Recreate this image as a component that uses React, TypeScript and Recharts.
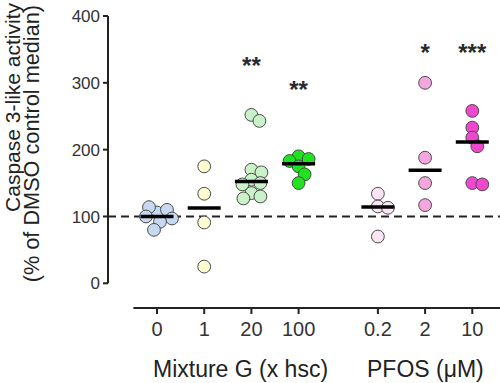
import { ScatterChart, Scatter, XAxis, YAxis, ReferenceLine } from "recharts";

// dose labels on the x axis (Mixture G x hsc, then PFOS uM)
const doseLabels = ["0", "1", "20", "100", "0.2", "2", "10"];

// caspase 3-like activity, % of DMSO control median
const dmso = [106, 110, 114, 100, 97, 92, 80];
const mixG1 = [175, 134, 91, 25];
const mixG20 = [252, 243, 170, 166, 155, 150, 148, 135, 130, 127];
const mixG100 = [190, 186, 183, 175, 163, 150];
const pfos02 = [134, 115, 113, 70];
const pfos2 = [300, 188, 150, 117];
const pfos10 = [258, 233, 218, 205, 150, 148];
const significance = ["", "", "**", "**", "", "*", "***"];

const yTicks = [0, 100, 200, 300, 400];

const groups = [dmso, mixG1, mixG20, mixG100, pfos02, pfos2, pfos10];
const fills = ["#c6d9f1", "#fdfbd0", "#caf2c8", "#1fe31f", "#fce4f4", "#f6a6de", "#ef48cf"];

const FONT = '"Liberation Sans", Arial, sans-serif';
const W = 500;
const H = 383;
const PLOT_LEFT = 108;
const PLOT_TOP = 16;
const PLOT_BOTTOM = 308;
const PX_PER_X = 47.2;
const PX_PER_Y = (283.3 - PLOT_TOP) / 400;
const GAP = 0.68; // extra space between the two compound blocks
const R = 6.4;

const xMin = -(157 - PLOT_LEFT) / PX_PER_X;
const xMax = (W - 157) / PX_PER_X;
const yMin = -(PLOT_BOTTOM - 283.3) / PX_PER_Y;

const positions = groups.map((_, i) => i + (i >= 4 ? GAP : 0));
const starLevels = [0, 0, 331, 295, 0, 350, 350];

// simple beeswarm so overlapping dots are pushed sideways
function swarm(values: number[], center: number) {
  const placed: { dx: number; y: number }[] = [];
  return values.map((v) => {
    let dx = 0;
    for (let k = 0; k < 40; k++) {
      const cand = k === 0 ? 0 : (k % 2 ? 1 : -1) * Math.ceil(k / 2);
      const ok = placed.every(
        (p) => Math.hypot(p.dx - cand, (p.y - v) * PX_PER_Y) >= 9.6
      );
      if (ok) {
        dx = cand;
        break;
      }
    }
    placed.push({ dx, y: v });
    return { x: center + dx / PX_PER_X, y: v };
  });
}

function median(values: number[]) {
  const s = [...values].sort((a, b) => a - b);
  const m = Math.floor(s.length / 2);
  return s.length % 2 ? s[m] : (s[m - 1] + s[m]) / 2;
}

const medianData = groups.map((g, i) => ({ x: positions[i], y: median(g) }));
const starData = significance
  .map((s, i) => ({ x: positions[i], y: starLevels[i], label: s }))
  .filter((d) => d.label);

export default function App() {
  return (
    <div style={{ position: "absolute", left: 0, top: 0, width: W, height: H, background: "#fff" }}>
      <ScatterChart
        width={W}
        height={H}
        margin={{ top: PLOT_TOP, right: 0, bottom: 0, left: 0 }}
      >
        <XAxis
          dataKey="x"
          type="number"
          domain={[xMin, xMax]}
          allowDataOverflow
          ticks={positions}
          tickFormatter={(v: number) => doseLabels[positions.indexOf(v)] ?? ""}
          axisLine={false}
          tickLine={{ stroke: "#222", strokeWidth: 2 }}
          tickSize={6}
          tickMargin={8}
          height={H - PLOT_BOTTOM}
          interval={0}
          tick={{ fill: "#333", fontSize: 20, fontFamily: FONT }}
        />
        <YAxis
          dataKey="y"
          type="number"
          domain={[yMin, 400]}
          allowDataOverflow
          ticks={yTicks}
          axisLine={false}
          tickLine={{ stroke: "#222", strokeWidth: 2 }}
          tickSize={5}
          tickMargin={3}
          width={PLOT_LEFT}
          interval={0}
          tick={{ fill: "#333", fontSize: 17, fontFamily: FONT }}
        />
        <ReferenceLine
          segment={[{ x: xMin, y: 0 }, { x: xMin, y: 400 }]}
          stroke="#222"
          strokeWidth={2}
          ifOverflow="visible"
        />
        <ReferenceLine
          segment={[{ x: -0.5, y: yMin }, { x: xMax, y: yMin }]}
          stroke="#222"
          strokeWidth={2}
          ifOverflow="visible"
        />
        <ReferenceLine
          y={100}
          stroke="#222"
          strokeWidth={2}
          strokeDasharray="8 5"
          ifOverflow="visible"
        />
        {groups.map((g, i) => (
          <Scatter
            key={i}
            data={swarm(g, positions[i])}
            isAnimationActive={false}
            shape={(p: any) => (
              <circle cx={p.cx} cy={p.cy} r={R} fill={fills[i]} stroke="#4a4a4a" strokeWidth={1} />
            )}
          />
        ))}
        <Scatter
          data={medianData}
          isAnimationActive={false}
          shape={(p: any) => (
            <line x1={p.cx - 16.5} x2={p.cx + 16.5} y1={p.cy} y2={p.cy} stroke="#000" strokeWidth={3.5} />
          )}
        />
        <Scatter
          data={starData}
          isAnimationActive={false}
          shape={(p: any) => (
            <text
              x={p.cx}
              y={p.cy + 12}
              textAnchor="middle"
              fontSize={24}
              fontWeight="bold"
              fontFamily={FONT}
              fill="#2a2a2a"
            >
              {p.payload.label}
            </text>
          )}
        />
      </ScatterChart>
      <svg
        width={W}
        height={H}
        style={{ position: "absolute", left: 0, top: 0, pointerEvents: "none" }}
        fontFamily={FONT}
        fill="#222"
      >
        <text x={19.5} y={3} transform="rotate(-90 19.5 3)" textAnchor="end" fontSize={21}>
          Caspase 3-like activity
        </text>
        <text x={39} y={5} transform="rotate(-90 39 5)" textAnchor="end" fontSize={21.7}>
          (% of DMSO control median)
        </text>
        <text x={153} y={376.5} fontSize={23}>
          Mixture G (x hsc)
        </text>
        <text x={367} y={376.5} fontSize={23}>
          PFOS (μM)
        </text>
      </svg>
    </div>
  );
}
